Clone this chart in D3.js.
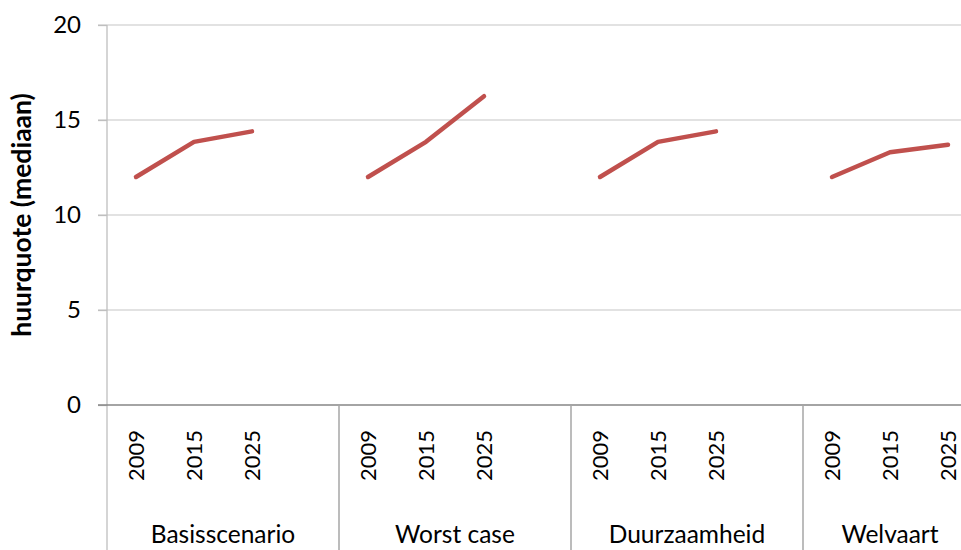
<!DOCTYPE html>
<html>
<head>
<meta charset="utf-8">
<script src="https://cdn.jsdelivr.net/npm/d3@7"></script>
<style>
  body { margin: 0; background: #fff; }
  svg { display: block; font-family: Lato, "Open Sans", sans-serif; }
</style>
</head>
<body>
<div id="chart"></div>
<script>
// data
const scenarios = ["Basisscenario", "Worst case", "Duurzaamheid", "Welvaart"];
const years = ["2009", "2015", "2025"];
const basisscenario = [12.0, 13.85, 14.4];
const worstCase = [12.0, 13.85, 16.25];
const duurzaamheid = [12.0, 13.85, 14.4];
const welvaart = [12.0, 13.3, 13.7];
const yTicks = [0, 5, 10, 15, 20];
const seriesValues = [basisscenario, worstCase, duurzaamheid, welvaart];

const width = 961, height = 550;
const plotLeft = 107, plotTop = 25, plotBottom = 405;

// slots: 3 years + one empty slot between groups (excel layout)
const slots = [];
scenarios.forEach((s, i) => {
  years.forEach(y => slots.push(s + "|" + y));
  if (i < scenarios.length - 1) slots.push(s + "|");
});

const svg = d3.select("#chart").append("svg")
  .attr("width", width)
  .attr("height", height);

const x = d3.scaleBand()
  .domain(slots)
  .range([plotLeft, plotLeft + 58 * slots.length]);

const y = d3.scaleLinear()
  .domain([0, 20])
  .range([plotBottom, plotTop]);

// gridlines
svg.append("g")
  .selectAll("line")
  .data(yTicks.filter(d => d > 0))
  .enter().append("line")
  .attr("x1", plotLeft - 9).attr("x2", width)
  .attr("y1", d => y(d)).attr("y2", d => y(d))
  .attr("stroke", "#d9d9d9").attr("stroke-width", 1.3);

// y axis
const yAxis = svg.append("g")
  .attr("transform", `translate(${plotLeft},0)`)
  .call(d3.axisLeft(y).tickValues(yTicks).tickSize(9).tickPadding(17));
yAxis.select(".domain").remove();
yAxis.selectAll(".tick line").attr("stroke", "#bfbfbf").attr("stroke-width", 1.3);
yAxis.selectAll(".tick text").attr("font-size", 24).attr("fill", "#000")
  .attr("font-family", "Lato, sans-serif");

svg.append("line")
  .attr("x1", plotLeft).attr("x2", plotLeft)
  .attr("y1", plotTop).attr("y2", height)
  .attr("stroke", "#bfbfbf").attr("stroke-width", 1.3);

// x baseline
svg.append("line")
  .attr("x1", plotLeft - 9).attr("x2", width)
  .attr("y1", y(0)).attr("y2", y(0))
  .attr("stroke", "#868686").attr("stroke-width", 1.5);

// group separators
const groupSlots = s => slots.filter(k => k.startsWith(s + "|"));
const groupStart = s => x(groupSlots(s)[0]);
svg.append("g")
  .selectAll("line")
  .data(scenarios.slice(1))
  .enter().append("line")
  .attr("x1", d => groupStart(d)).attr("x2", d => groupStart(d))
  .attr("y1", y(0)).attr("y2", height)
  .attr("stroke", "#a6a6a6").attr("stroke-width", 1.5);

// year labels
scenarios.forEach(s => {
  svg.append("g")
    .selectAll("text")
    .data(years)
    .enter().append("text")
    .attr("transform", d => `translate(${x(s + "|" + d) + x.bandwidth() / 2},430) rotate(-90)`)
    .attr("text-anchor", "end")
    .attr("dy", "0.36em")
    .attr("font-size", 22)
    .text(d => d);
});

// category labels, centred over all slots of the group
svg.append("g")
  .selectAll("text")
  .data(scenarios)
  .enter().append("text")
  .attr("x", d => {
    const g = groupSlots(d);
    return (x(g[0]) + x(g[g.length - 1]) + x.bandwidth()) / 2;
  })
  .attr("y", 543)
  .attr("text-anchor", "middle")
  .attr("font-size", 24.5)
  .text(d => d);

// y title
svg.append("text")
  .attr("transform", `translate(22,${(plotTop + plotBottom) / 2}) rotate(-90)`)
  .attr("text-anchor", "middle")
  .attr("dy", "0.35em")
  .attr("font-size", 26.5)
  .attr("font-weight", "bold")
  .text("huurquote (mediaan)");

// lines
const line = d3.line()
  .x(d => x(d.key) + x.bandwidth() / 2)
  .y(d => y(d.value));

scenarios.forEach((s, i) => {
  const pts = years.map((yr, j) => ({ key: s + "|" + yr, value: seriesValues[i][j] }));
  svg.append("path")
    .datum(pts)
    .attr("d", line)
    .attr("fill", "none")
    .attr("stroke", "#c0504d")
    .attr("stroke-width", 4.5)
    .attr("stroke-linecap", "round")
    .attr("stroke-linejoin", "round");
});
</script>
</body>
</html>
